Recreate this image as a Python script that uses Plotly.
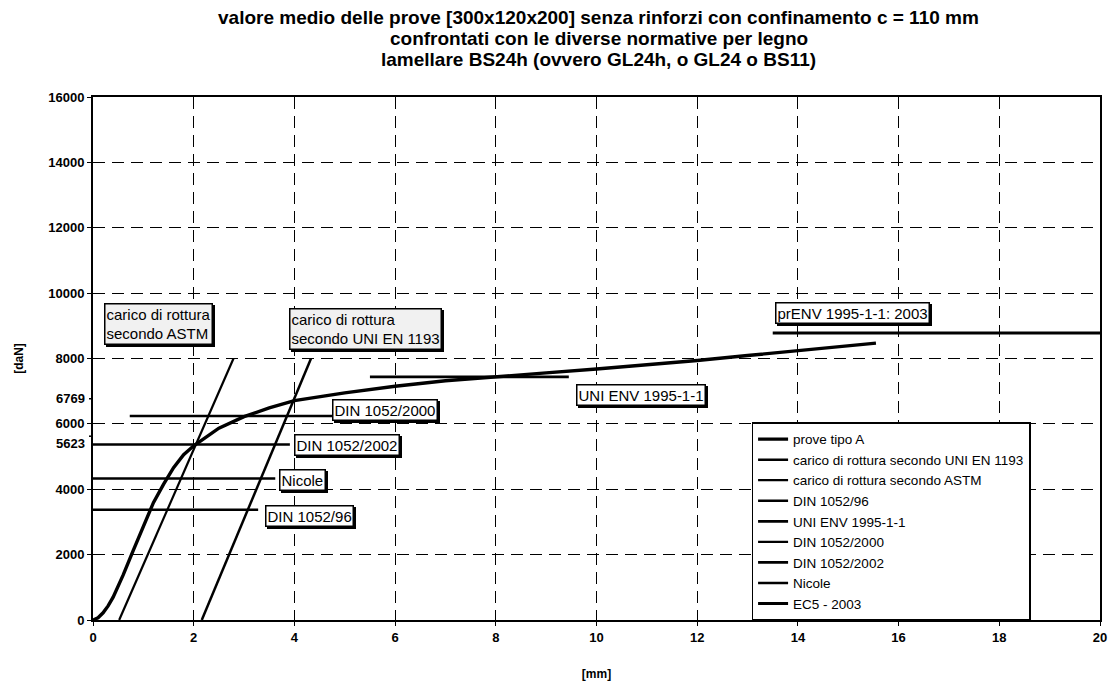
import plotly.graph_objects as go

# Mean load-displacement curve of the type A tests
prova_x = [0, 0.1, 0.2, 0.3, 0.4, 0.6, 0.8, 1.0, 1.2, 1.4, 1.6, 1.8, 2.0,
           2.5, 3.0, 3.5, 4.0, 5.0, 6.0, 7.0, 8.0, 9.0, 10.0, 11.0, 12.0, 13.0,
           14.0, 15.0, 15.55]
prova_y = [0, 70, 220, 430, 700, 1380, 2130, 2850, 3590, 4150, 4660, 5060, 5330,
           5870, 6220, 6490, 6714, 6950, 7150, 7320, 7450, 7560, 7680, 7800,
           7940, 8090, 8240, 8380, 8470]

# Rupture load lines (offset method)
uni1193_x = [2.16, 4.33]
uni1193_y = [0, 8000]
astm_x = [0.52, 2.79]
astm_y = [0, 8000]

# Code limits [daN]
din96_x, din96_y = [0, 3.28], [3372, 3372]
unienv_x, unienv_y = [5.5, 9.45], [7440, 7440]
din2000_x, din2000_y = [0.73, 4.76], [6240, 6240]
din2002_x, din2002_y = [0, 3.91], [5370, 5370]
nicole_x, nicole_y = [0, 3.62], [4330, 4330]
ec5_x, ec5_y = [13.5, 20], [8780, 8780]

# Axis ticks
x_ticks = [0, 2, 4, 6, 8, 10, 12, 14, 16, 18, 20]
y_ticks = [0, 2000, 4000, 6000, 8000, 10000, 12000, 14000, 16000]
y_extra_ticks = [5623, 6769]

title_lines = [
    "valore medio delle prove [300x120x200] senza rinforzi con confinamento c = 110 mm",
    "confrontati con le diverse normative per legno",
    "lamellare BS24h (ovvero GL24h, o GL24 o BS11)",
]

FONT = "Liberation Sans, Arial, sans-serif"

series = [
    ("prove tipo A", prova_x, prova_y, 3.4),
    ("carico di rottura secondo UNI EN 1193", uni1193_x, uni1193_y, 2.5),
    ("carico di rottura secondo ASTM", astm_x, astm_y, 2.2),
    ("DIN 1052/96", din96_x, din96_y, 2.6),
    ("UNI ENV 1995-1-1", unienv_x, unienv_y, 2.8),
    ("DIN 1052/2000", din2000_x, din2000_y, 2.4),
    ("DIN 1052/2002", din2002_x, din2002_y, 2.6),
    ("Nicole", nicole_x, nicole_y, 2.6),
    ("EC5 - 2003", ec5_x, ec5_y, 2.8),
]

fig = go.Figure()
for name, xs, ys, width in series:
    fig.add_trace(go.Scatter(x=xs, y=ys, mode="lines", name=name,
                             line=dict(color="black", width=width)))

# Boxed labels next to each line (with a small drop shadow)
labels = [
    ("carico di rottura<br>secondo ASTM", 1.31, 9050, "#f1f1f1"),
    ("carico di rottura<br>secondo UNI EN 1193", 5.41, 8900, "#f1f1f1"),
    ("DIN 1052/2000", 5.8, 6420, "white"),
    ("DIN 1052/2002", 5.05, 5350, "white"),
    ("Nicole", 4.16, 4280, "white"),
    ("DIN 1052/96", 4.29, 3180, "white"),
    ("UNI ENV 1995-1-1", 10.88, 6870, "white"),
    ("prENV 1995-1-1: 2003", 15.08, 9390, "white"),
]
for text, lx, ly, bg in labels:
    fig.add_annotation(x=lx, y=ly, text=text, showarrow=False, align="left",
                       xshift=2, yshift=-2,
                       font=dict(family=FONT, size=15, color="black"),
                       bgcolor="black", bordercolor="black", borderwidth=1.5,
                       borderpad=1)
    fig.add_annotation(x=lx, y=ly, text=text, showarrow=False, align="left",
                       font=dict(family=FONT, size=15, color="black"),
                       bgcolor=bg, bordercolor="black", borderwidth=1.5,
                       borderpad=1)

# Title, one line per annotation
for i, line in enumerate(title_lines):
    fig.add_annotation(text=line, xref="paper", yref="paper", x=0.502, y=1,
                       xanchor="center", yanchor="middle", yshift=80 - 21 * i,
                       showarrow=False,
                       font=dict(family=FONT, size=19, color="black", weight="bold"))

# Labels of the intersection loads on the load axis
for val in y_extra_ticks:
    fig.add_annotation(text=str(val), xref="paper", yref="y", x=0, y=val,
                       xanchor="right", yanchor="middle", xshift=-6,
                       yshift=-7 if val < 6000 else 0, showarrow=False,
                       font=dict(family=FONT, size=13, color="black", weight="bold"))
    fig.add_shape(type="line", xref="paper", yref="y", x0=-0.004, x1=0,
                  y0=val, y1=val, line=dict(color="black", width=1.5))

fig.update_layout(
    width=1116, height=684,
    paper_bgcolor="white", plot_bgcolor="white",
    margin=dict(l=93, r=16, t=97, b=64, autoexpand=False),
    font=dict(family=FONT, size=13, color="black"),
    xaxis=dict(
        range=[0, 20], tickvals=x_ticks, ticktext=[str(v) for v in x_ticks],
        ticks="outside", ticklen=4, automargin=False,
        tickcolor="black", showline=True, linecolor="black", linewidth=2,
        mirror=True, showgrid=True, gridcolor="black", gridwidth=1.2,
        griddash="12px,7px", zeroline=False,
        tickfont=dict(family=FONT, size=13, color="black", weight="bold"),
        title=dict(text="[mm]", standoff=26,
                   font=dict(family=FONT, size=12, color="black", weight="bold")),
    ),
    yaxis=dict(
        range=[0, 16000], tickvals=y_ticks, ticktext=[str(v) for v in y_ticks],
        ticks="outside", ticklen=4, automargin=False,
        tickcolor="black", showline=True, linecolor="black", linewidth=2,
        mirror=True, showgrid=True, gridcolor="black", gridwidth=1.3,
        griddash="12px,7px", zeroline=False,
        tickfont=dict(family=FONT, size=13, color="black", weight="bold"),
        title=dict(text="[daN]", standoff=22,
                   font=dict(family=FONT, size=12, color="black", weight="bold")),
    ),
    legend=dict(
        x=0.654, y=0.378, xanchor="left", yanchor="top",
        bgcolor="white", bordercolor="black", borderwidth=1.5,
        font=dict(family=FONT, size=13.5, color="black"),
        tracegroupgap=0, itemwidth=30,
    ),
    showlegend=True,
)

fig.write_html("out.html")
